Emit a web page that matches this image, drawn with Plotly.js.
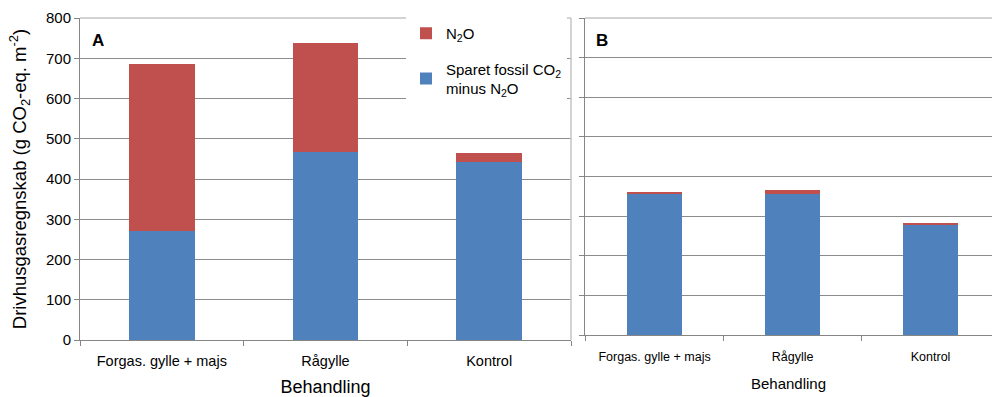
<!DOCTYPE html>
<html>
<head>
<meta charset="utf-8">
<script src="https://cdn.plot.ly/plotly-3.0.1.min.js"></script>
<style>html,body{margin:0;padding:0;background:#fff;}#chart{width:992px;height:397px;}</style>
</head>
<body>
<div id="chart"></div>
<script>
// Data
const categories = ["Forgas. gylle + majs", "Rågylle", "Kontrol"];
const savedA = [270, 467, 443];   // Sparet fossil CO2 minus N2O, panel A
const n2oA   = [416, 270, 21];    // N2O, panel A
const savedB = [355, 355, 278];   // panel B
const n2oB   = [7, 10, 4];        // panel B
const yTicks = [0, 100, 200, 300, 400, 500, 600, 700, 800];

const blue = '#4f81bd', red = '#c0504d';
const font = 'Liberation Sans, Arial, sans-serif';

const traces = [
  {type:'bar', x:categories, y:savedA, name:'Sparet fossil CO<sub>2</sub><br>minus N<sub>2</sub>O',
   marker:{color:blue}, xaxis:'x', yaxis:'y', legendgroup:'s', legendrank:2, hoverinfo:'y'},
  {type:'bar', x:categories, y:n2oA, name:'N<sub>2</sub>O',
   marker:{color:red}, xaxis:'x', yaxis:'y', legendgroup:'n', legendrank:1, hoverinfo:'y'},
  {type:'bar', x:categories, y:savedB, name:'Sparet', showlegend:false,
   marker:{color:blue}, xaxis:'x2', yaxis:'y2', hoverinfo:'y'},
  {type:'bar', x:categories, y:n2oB, name:'N2O', showlegend:false,
   marker:{color:red}, xaxis:'x2', yaxis:'y2', hoverinfo:'y'}
];

const W = 992, H = 397;
const px = v => v / W, py = v => 1 - v / H;

const axisCommon = {
  linecolor:'#868686', linewidth:1, showline:true,
  ticks:'outside', ticklen:5, tickcolor:'#868686', zeroline:false
};

const layout = {
  width:W, height:H,
  margin:{l:0, r:0, t:0, b:0},
  paper_bgcolor:'#fff', plot_bgcolor:'#fff',
  barmode:'stack', bargap:0.6,
  font:{family:font, color:'#000'},
  showlegend:true,
  legend:{x:px(406), y:py(17), xanchor:'left', yanchor:'top',
    bgcolor:'#fff', font:{family:font, size:15, color:'#000'},
    traceorder:'grouped', tracegroupgap:13, itemwidth:30},
  xaxis:Object.assign({}, axisCommon, {
    domain:[px(80), px(571)], anchor:'y', type:'category',
    tickson:'boundaries', tickfont:{size:14.5, family:font, color:'#000'},
    ticklabelstandoff:8,
    title:{text:'Behandling', font:{size:18, family:font, color:'#000'}, standoff:12}
  }),
  yaxis:Object.assign({}, axisCommon, {
    domain:[1 - 340/H, 1 - 18/H], anchor:'x', range:[0, 800],
    tickvals:yTicks, ticktext:yTicks.map(String),
    showgrid:true, gridcolor:'#8c8c8c', gridwidth:1,
    tickfont:{size:15, family:font, color:'#000'},
    title:{text:'Drivhusgasregnskab (g CO<sub>2</sub>-eq. m<sup>-2</sup>)',
      font:{size:18.5, family:font, color:'#000'}, standoff:14}
  }),
  xaxis2:Object.assign({}, axisCommon, {
    domain:[px(585), 1], anchor:'y2', type:'category',
    range:[-0.504, 2.445],
    tickson:'boundaries', tickfont:{size:12.5, family:font, color:'#000'},
    ticklabelstandoff:10,
    title:{text:'Behandling', font:{size:15, family:font, color:'#000'}, standoff:15}
  }),
  yaxis2:Object.assign({}, axisCommon, {
    domain:[1 - 335/H, 1 - 18/H], anchor:'x2', range:[0, 800],
    tickvals:yTicks, showticklabels:false,
    showgrid:true, gridcolor:'#8c8c8c', gridwidth:1
  }),
  shapes:[
    {type:'line', xref:'paper', yref:'paper', x0:px(80), x1:px(571), y0:py(18), y1:py(18), line:{color:'#c4c4c4', width:1.5}, layer:'above'},
    {type:'line', xref:'paper', yref:'paper', x0:px(571), x1:px(571), y0:py(18), y1:py(340), line:{color:'#c4c4c4', width:1.5}, layer:'above'},
    {type:'line', xref:'paper', yref:'paper', x0:px(585), x1:1, y0:py(18), y1:py(18), line:{color:'#c4c4c4', width:1.5}, layer:'above'}
  ],
  annotations:[
    {text:'<b>A</b>', xref:'paper', yref:'paper', x:px(90), y:py(40), xanchor:'left', yanchor:'middle', showarrow:false, font:{size:17, family:font, color:'#000'}},
    {text:'<b>B</b>', xref:'paper', yref:'paper', x:px(594), y:py(40), xanchor:'left', yanchor:'middle', showarrow:false, font:{size:17, family:font, color:'#000'}}
  ]
};

Plotly.newPlot('chart', traces, layout, {displayModeBar:false, staticPlot:true});
</script>
</body>
</html>
